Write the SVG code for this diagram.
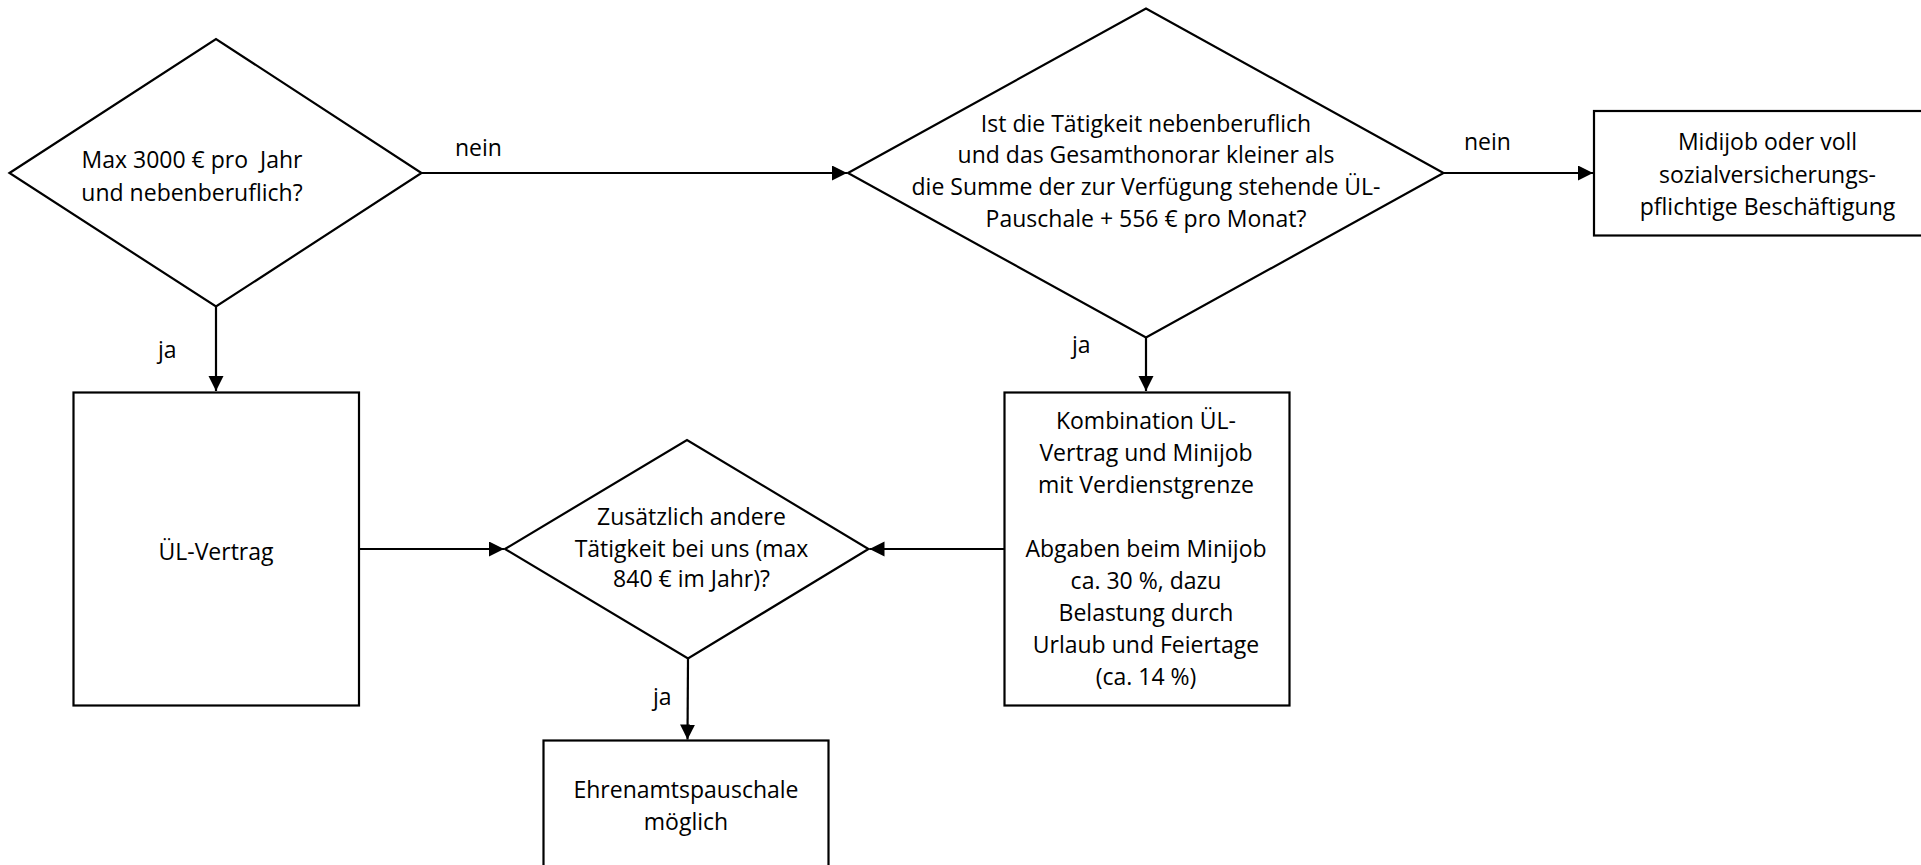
<svg xmlns="http://www.w3.org/2000/svg" width="1921" height="865" viewBox="0 0 1921 865">
<style>
.shape{fill:#fff;stroke:#000;stroke-width:2.2}
.conn{fill:none;stroke:#000;stroke-width:2.2}
text{font-family:"Open Sans","Noto Sans",sans-serif;font-size:23px;fill:#000;text-anchor:middle}
.lbl{text-anchor:start}
</style>
<defs>
<marker id="arr" markerUnits="userSpaceOnUse" markerWidth="16" markerHeight="16" refX="15" refY="7.5" orient="auto">
<path d="M0,0 L15,7.5 L0,15 z" fill="#000"/>
</marker>
</defs>
<rect width="1921" height="865" fill="#fff"/>
<g id="connectors">
<line class="conn" x1="421.5" y1="173" x2="847" y2="173" marker-end="url(#arr)"/>
<line class="conn" x1="1443.5" y1="173" x2="1593" y2="173" marker-end="url(#arr)"/>
<line class="conn" x1="216" y1="306.5" x2="216" y2="391" marker-end="url(#arr)"/>
<line class="conn" x1="1146" y1="337.5" x2="1146" y2="391" marker-end="url(#arr)"/>
<line class="conn" x1="359" y1="549" x2="504" y2="549" marker-end="url(#arr)"/>
<line class="conn" x1="1004.5" y1="549" x2="869.5" y2="549" marker-end="url(#arr)"/>
<line class="conn" x1="688" y1="658.5" x2="687.5" y2="739.5" marker-end="url(#arr)"/>
<text class="lbl" x="455" y="156">nein</text>
<text class="lbl" x="1464" y="150">nein</text>
<text class="lbl" x="158" y="358">ja</text>
<text class="lbl" x="1072" y="353">ja</text>
<text class="lbl" x="653" y="705">ja</text>
</g>
<g id="d1">
<polygon class="shape" points="9.5,173 216,39 421.5,173 216,306.5"/>
<text x="192" y="168">Max 3000 € pro&#160; Jahr</text>
<text x="192" y="200.5">und nebenberuflich?</text>
</g>
<g id="d2">
<polygon class="shape" points="848,173 1146,8.5 1443.5,173 1146,337.5"/>
<text x="1146" y="131.7">Ist die Tätigkeit nebenberuflich</text>
<text x="1146" y="163.3">und das Gesamthonorar kleiner als</text>
<text x="1146" y="195">die Summe der zur Verfügung stehende ÜL-</text>
<text x="1146" y="226.7">Pauschale + 556 € pro Monat?</text>
</g>
<g id="midijob">
<rect class="shape" x="1594" y="111" width="400" height="124.5"/>
<text x="1767.5" y="150">Midijob oder voll</text>
<text x="1767.5" y="183">sozialversicherungs-</text>
<text x="1767.5" y="215">pflichtige Beschäftigung</text>
</g>
<g id="ul">
<rect class="shape" x="73.5" y="392.5" width="285.5" height="313"/>
<text x="216" y="560">ÜL-Vertrag</text>
</g>
<g id="d3">
<polygon class="shape" points="505,549 687,440 868.5,549 688,658.5"/>
<text x="691.5" y="525">Zusätzlich andere</text>
<text x="691.5" y="556.7">Tätigkeit bei uns (max</text>
<text x="691.5" y="587.3">840 € im Jahr)?</text>
</g>
<g id="kombi">
<rect class="shape" x="1004.5" y="392.5" width="285" height="313"/>
<text x="1146" y="429">Kombination ÜL-</text>
<text x="1146" y="461">Vertrag und Minijob</text>
<text x="1146" y="493">mit Verdienstgrenze</text>
<text x="1146" y="557">Abgaben beim Minijob</text>
<text x="1146" y="589">ca. 30 %, dazu</text>
<text x="1146" y="621">Belastung durch</text>
<text x="1146" y="653">Urlaub und Feiertage</text>
<text x="1146" y="685">(ca. 14 %)</text>
</g>
<g id="ehrenamt">
<rect class="shape" x="543.5" y="740.5" width="285" height="200"/>
<text x="686" y="798">Ehrenamtspauschale</text>
<text x="686" y="830">möglich</text>
</g>
</svg>
